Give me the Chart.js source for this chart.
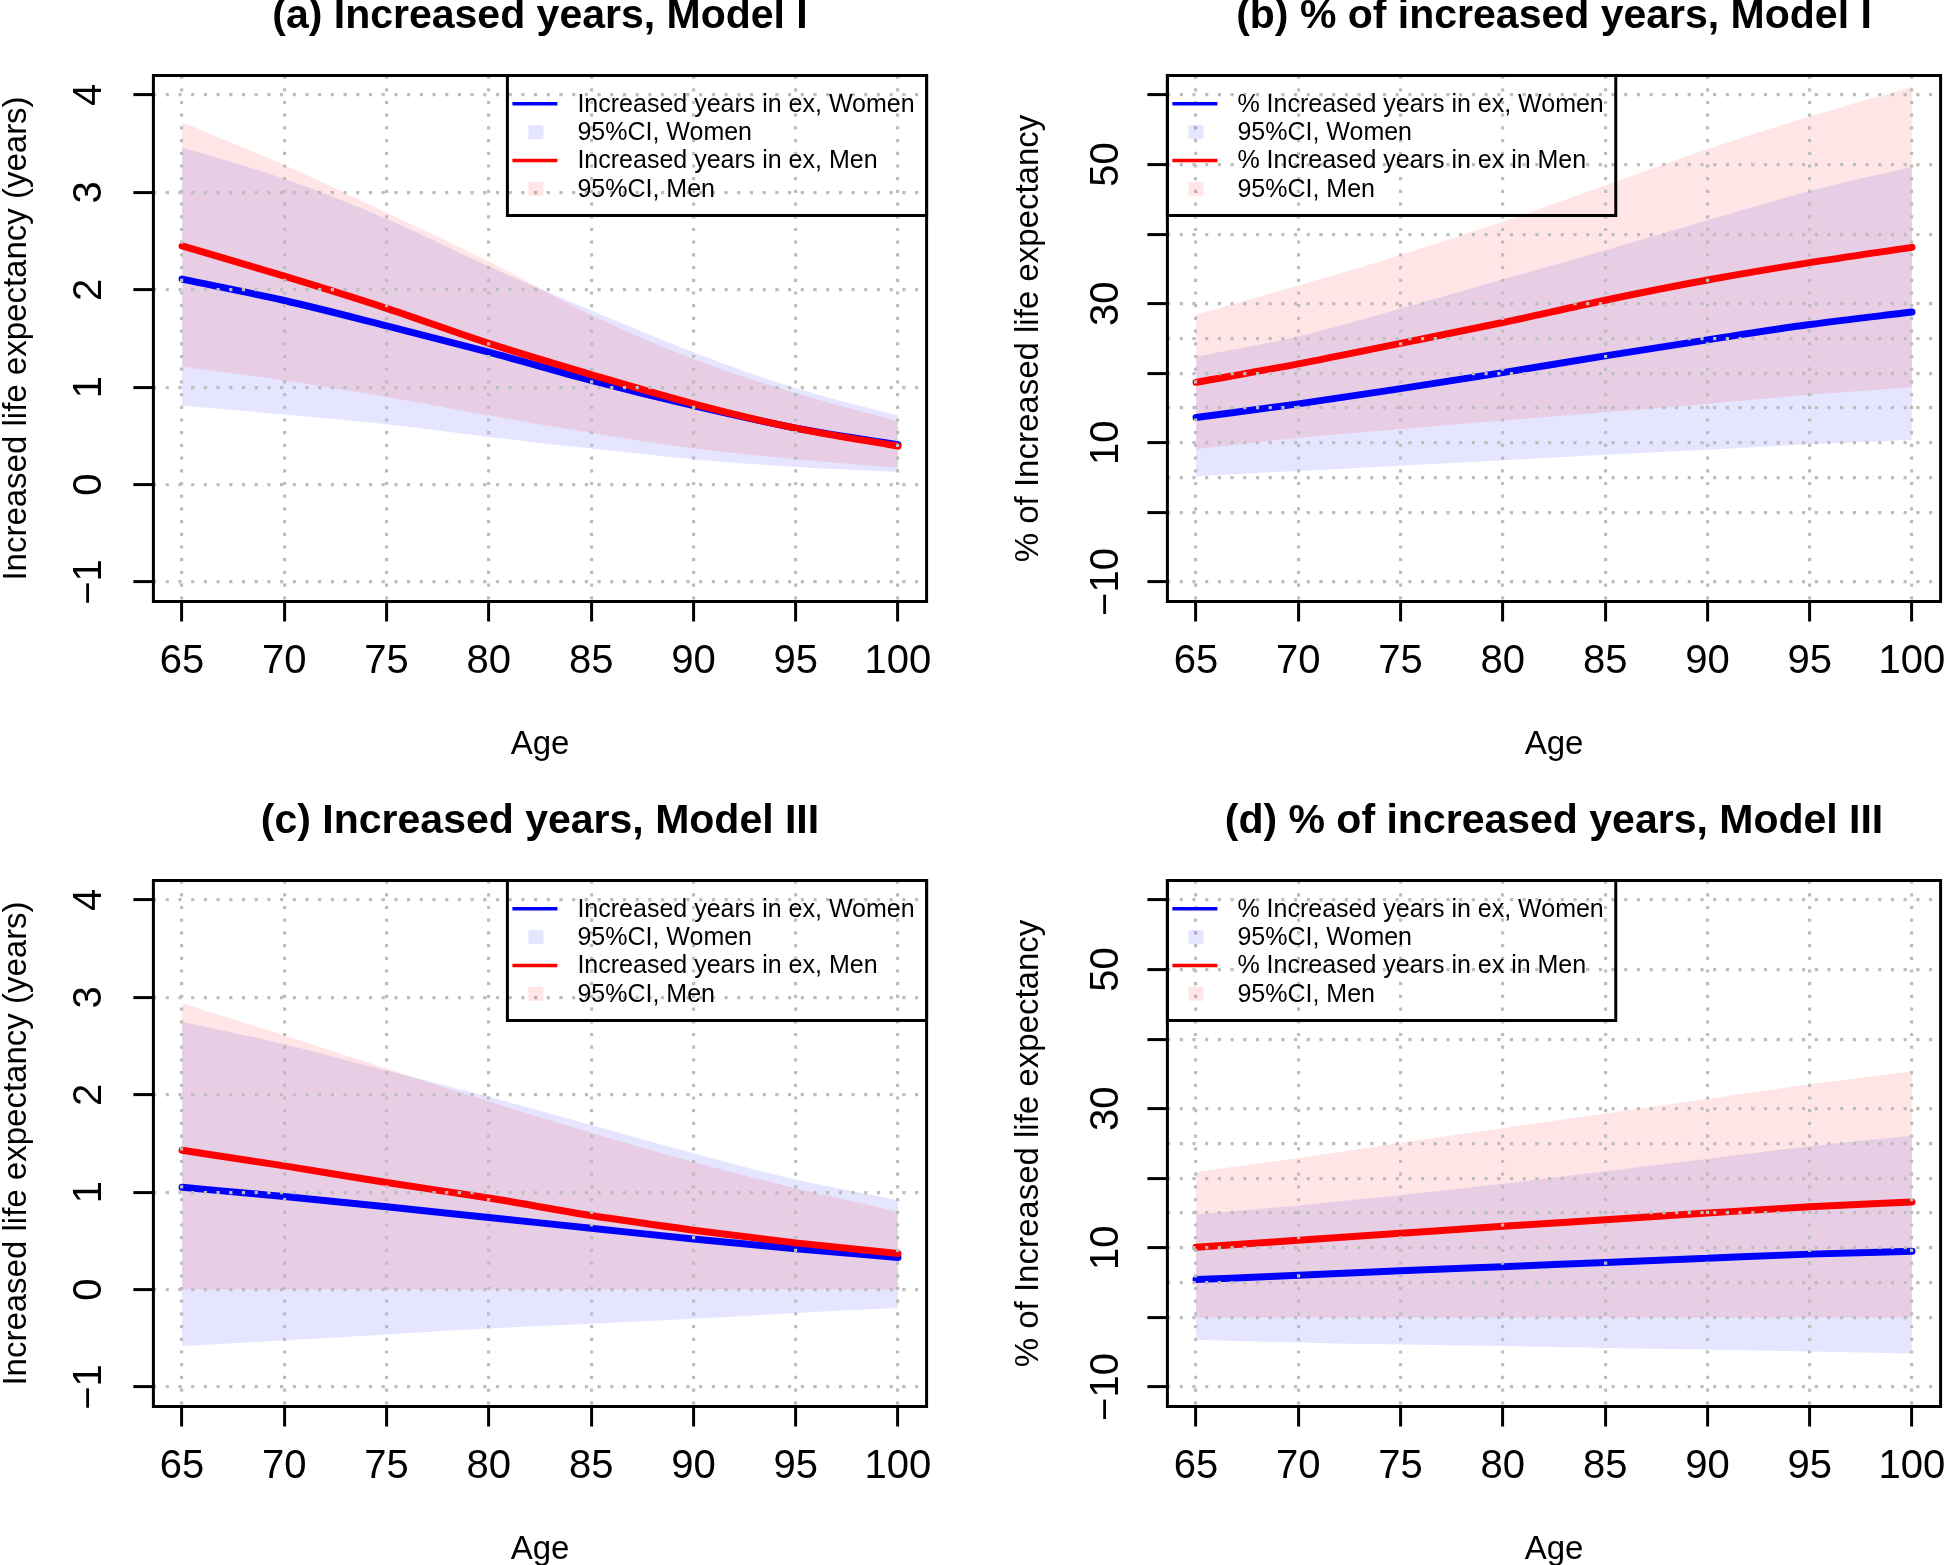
<!DOCTYPE html>
<html>
<head>
<meta charset="utf-8">
<script src="https://cdn.jsdelivr.net/npm/chart.js@4.4.1/dist/chart.umd.min.js"></script>
<style>
html,body{margin:0;padding:0;background:#fff;overflow:hidden;width:1946px;height:1565px;}
.cell{position:absolute;width:973px;height:805px;}
</style>
</head>
<body>
<div class="cell" style="left:0;top:-30px"><canvas id="cA" width="973" height="805"></canvas></div>
<div class="cell" style="left:973px;top:-30px"><canvas id="cB" width="973" height="805"></canvas></div>
<div class="cell" style="left:0;top:775px"><canvas id="cC" width="973" height="805"></canvas></div>
<div class="cell" style="left:973px;top:775px"><canvas id="cD" width="973" height="805"></canvas></div>
<script>
const AGES=[65,70,75,80,85,90,95,100];

// (a) increased years, Model I
const A_WOMEN   =[2.11,1.89,1.63,1.36,1.07,0.81,0.58,0.41];
const A_WOMEN_LO=[0.81,0.72,0.62,0.49,0.37,0.26,0.18,0.13];
const A_WOMEN_HI=[3.46,3.14,2.73,2.24,1.79,1.36,0.99,0.71];
const A_MEN     =[2.45,2.14,1.81,1.45,1.13,0.83,0.58,0.395];
const A_MEN_LO  =[1.21,1.07,0.90,0.71,0.53,0.37,0.26,0.17];
const A_MEN_HI  =[3.72,3.28,2.79,2.29,1.74,1.29,0.94,0.65];

// (b) % of increased years, Model I
const B_WOMEN   =[13.65,15.6,17.8,20.1,22.5,24.8,27.0,28.8];
const B_WOMEN_LO=[5.2,5.95,6.7,7.5,8.3,9.0,9.8,10.4];
const B_WOMEN_HI=[22.4,25.3,29.3,33.5,37.7,42.0,46.2,49.7];
const B_MEN     =[18.7,21.35,24.3,27.3,30.5,33.4,35.9,38.1];
const B_MEN_LO  =[9.1,10.7,11.95,13.2,14.4,15.6,16.9,18.0];
const B_MEN_HI  =[28.4,32.6,37.0,41.8,47.0,52.2,56.9,61.2];

// (c) increased years, Model III
const C_WOMEN   =[1.05,0.955,0.85,0.74,0.63,0.52,0.42,0.33];
const C_WOMEN_LO=[-0.58,-0.52,-0.46,-0.40,-0.35,-0.30,-0.24,-0.19];
const C_WOMEN_HI=[2.75,2.52,2.25,1.98,1.69,1.40,1.13,0.92];
const C_MEN     =[1.43,1.27,1.10,0.94,0.76,0.61,0.48,0.37];
const C_MEN_LO  =[0,0,0,0,0,0,0,0];
const C_MEN_HI  =[2.94,2.61,2.27,1.93,1.61,1.31,1.04,0.80];

// (d) % of increased years, Model III
const D_WOMEN   =[5.45,6.05,6.7,7.3,7.9,8.5,9.1,9.5];
const D_WOMEN_LO=[-3.2,-3.6,-3.9,-4.1,-4.4,-4.6,-4.9,-5.2];
const D_WOMEN_HI=[14.8,16.1,17.6,19.2,21.0,22.8,24.6,26.1];
const D_MEN     =[10.1,11.1,12.1,13.1,14.05,15.0,15.9,16.6];
const D_MEN_LO  =[0,0,0,0,0,0,0,0];
const D_MEN_HI  =[20.9,22.9,25.1,27.2,29.3,31.4,33.5,35.4];

const X_TICKS=[65,70,75,80,85,90,95,100];
const YEAR_TICKS=[-1,0,1,2,3,4];
const PCT_GRID=[-10,0,5,10,15,20,25,30,40,50,60];
const PCT_MARKS=[-10,0,10,20,30,40,50,60];
const PCT_LABELS=[-10,10,30,50];

const TITLES=['(a) Increased years, Model I','(b) % of increased years, Model I',
  '(c) Increased years, Model III','(d) % of increased years, Model III'];
const YEAR_LEGEND=['Increased years in ex, Women','95%CI, Women','Increased years in ex, Men','95%CI, Men'];
const PCT_LEGEND=['% Increased years in ex, Women','95%CI, Women','% Increased years in ex in Men','95%CI, Men'];

const BLUE='#0000ff',RED='#ff0000',BLUE_BAND='rgba(0,0,255,0.1)',RED_BAND='rgba(255,0,0,0.1)';
const GRID='#bdbdbd',NONE='rgba(0,0,0,0)';
const FONT="'Liberation Sans', Arial, Helvetica, sans-serif";
Chart.defaults.font.family=FONT;
Chart.defaults.color='#000';

const pts=arr=>arr.map((v,i)=>({x:AGES[i],y:v}));
const minus=v=>v<0?'\u2212'+Math.abs(v):String(v);

function buildSets(w,wLo,wHi,m,mLo,mHi){
  const line={fill:false,borderWidth:7,borderCapStyle:'round',pointRadius:0,cubicInterpolationMode:'monotone'};
  const band={borderWidth:0,borderColor:NONE,pointRadius:0,cubicInterpolationMode:'monotone'};
  return [
    {...line,label:'men',data:pts(m),borderColor:RED},
    {...line,label:'women',data:pts(w),borderColor:BLUE},
    {...band,label:'men hi',data:pts(mHi),fill:'+1',backgroundColor:RED_BAND},
    {...band,label:'men lo',data:pts(mLo),fill:false},
    {...band,label:'women hi',data:pts(wHi),fill:'+1',backgroundColor:BLUE_BAND},
    {...band,label:'women lo',data:pts(wLo),fill:false},
  ];
}

/* ── plot frame, R-style boxed legend, title centred over plot ── */
const plotBox={id:'plotBox',afterDraw(chart){
  const {ctx,chartArea:a}=chart;
  ctx.save();ctx.lineWidth=3;ctx.strokeStyle='#000';
  ctx.strokeRect(a.left,a.top,a.right-a.left,a.bottom-a.top);
  ctx.restore();
}};
const boxLegend={id:'boxLegend',afterDraw(chart,args,opts){
  const {ctx,chartArea:a}=chart;
  const ds=chart.data.datasets;
  const items=[
    {text:opts.labels[0],line:true,color:ds[1].borderColor},
    {text:opts.labels[1],line:false,color:ds[4].backgroundColor},
    {text:opts.labels[2],line:true,color:ds[0].borderColor},
    {text:opts.labels[3],line:false,color:ds[2].backgroundColor},
  ];
  ctx.save();
  ctx.font='25px '+FONT;
  const tw=Math.max(...items.map(it=>ctx.measureText(it.text).width));
  const w=70+tw+12,h=140;
  const x0=opts.side==='right'?a.right-w:a.left,y0=a.top;
  ctx.lineWidth=3;ctx.strokeStyle='#000';ctx.strokeRect(x0,y0,w,h);
  ctx.textBaseline='middle';ctx.textAlign='left';
  items.forEach((it,i)=>{
    const cy=y0+28.3*(i+1);
    if(it.line){
      ctx.strokeStyle=it.color;ctx.lineWidth=3.5;
      ctx.beginPath();ctx.moveTo(x0+5,cy);ctx.lineTo(x0+50,cy);ctx.stroke();
    }else{
      ctx.fillStyle=it.color;ctx.fillRect(x0+21,cy-7,15,14);
    }
    ctx.fillStyle='#000';ctx.fillText(it.text,x0+70,cy+1);
  });
  ctx.restore();
}};
const centerTitle={id:'centerTitle',afterLayout(chart){
  const t=chart.titleBlock,a=chart.chartArea;
  if(t){t.left=a.left;t.right=a.right;}
}};

function xScale(){
  return {type:'linear',min:63.6,max:101.4,
    afterBuildTicks:s=>{s.ticks=X_TICKS.map(v=>({value:v}));},
    afterFit:s=>{s.height=173.5;s.paddingLeft=0;s.paddingRight=0;},
    grid:{color:GRID,lineWidth:3.2,z:1,tickLength:20,tickWidth:3,tickColor:'#000'},
    border:{display:false,dash:[3.2,9.5]},
    ticks:{font:{size:40},padding:16,autoSkip:false,maxRotation:0,callback:v=>String(v)},
    title:{display:true,text:'Age',font:{size:33},padding:{top:0,bottom:10}}
  };
}
function yScale(pct,width,titlePad,tickPad,text){
  return {type:'linear',min:pct?-12.8:-1.2,max:pct?62.8:4.2,
    afterBuildTicks:s=>{s.ticks=(pct?PCT_GRID:YEAR_TICKS).map(v=>({value:v}));},
    afterFit:s=>{s.width=width;s.paddingTop=0;s.paddingBottom=0;},
    grid:{color:GRID,lineWidth:3.2,z:1,tickLength:20,tickWidth:3,
      tickColor:c=>(!pct||PCT_MARKS.includes(c.tick&&c.tick.value))?'#000':NONE},
    border:{display:false,dash:[3.2,9.5]},
    ticks:{font:{size:40},padding:tickPad,crossAlign:'center',minRotation:90,maxRotation:90,autoSkip:false,
      callback:v=>(!pct||PCT_LABELS.includes(v))?minus(v):''},
    title:{display:true,text,font:{size:33,lineHeight:1},padding:{top:titlePad,bottom:0}}
  };
}

function makeChart(id,title,pct,right,sets){
  new Chart(document.getElementById(id),{
    type:'line',
    data:{datasets:sets},
    options:{responsive:false,animation:false,
      layout:{padding:{left:0,top:0,bottom:0,right:right?5.4:46.4}},
      plugins:{
        legend:{display:false},tooltip:{enabled:false},
        title:{display:true,text:title,font:{size:41,weight:'bold',lineHeight:1},padding:{top:26.5,bottom:38}},
        boxLegend:{side:pct?'left':'right',labels:pct?PCT_LEGEND:YEAR_LEGEND}
      },
      scales:{
        x:xScale(),
        y:yScale(pct,right?194.4:153.4,right?39.5:0,right?6.6:20.2,
          pct?'% of Increased life expectancy':'Increased life expectancy (years)')
      }
    },
    plugins:[plotBox,boxLegend,centerTitle]
  });
}

makeChart('cA',TITLES[0],false,false,buildSets(A_WOMEN,A_WOMEN_LO,A_WOMEN_HI,A_MEN,A_MEN_LO,A_MEN_HI));
makeChart('cB',TITLES[1],true,true,buildSets(B_WOMEN,B_WOMEN_LO,B_WOMEN_HI,B_MEN,B_MEN_LO,B_MEN_HI));
makeChart('cC',TITLES[2],false,false,buildSets(C_WOMEN,C_WOMEN_LO,C_WOMEN_HI,C_MEN,C_MEN_LO,C_MEN_HI));
makeChart('cD',TITLES[3],true,true,buildSets(D_WOMEN,D_WOMEN_LO,D_WOMEN_HI,D_MEN,D_MEN_LO,D_MEN_HI));
</script>
</body>
</html>
